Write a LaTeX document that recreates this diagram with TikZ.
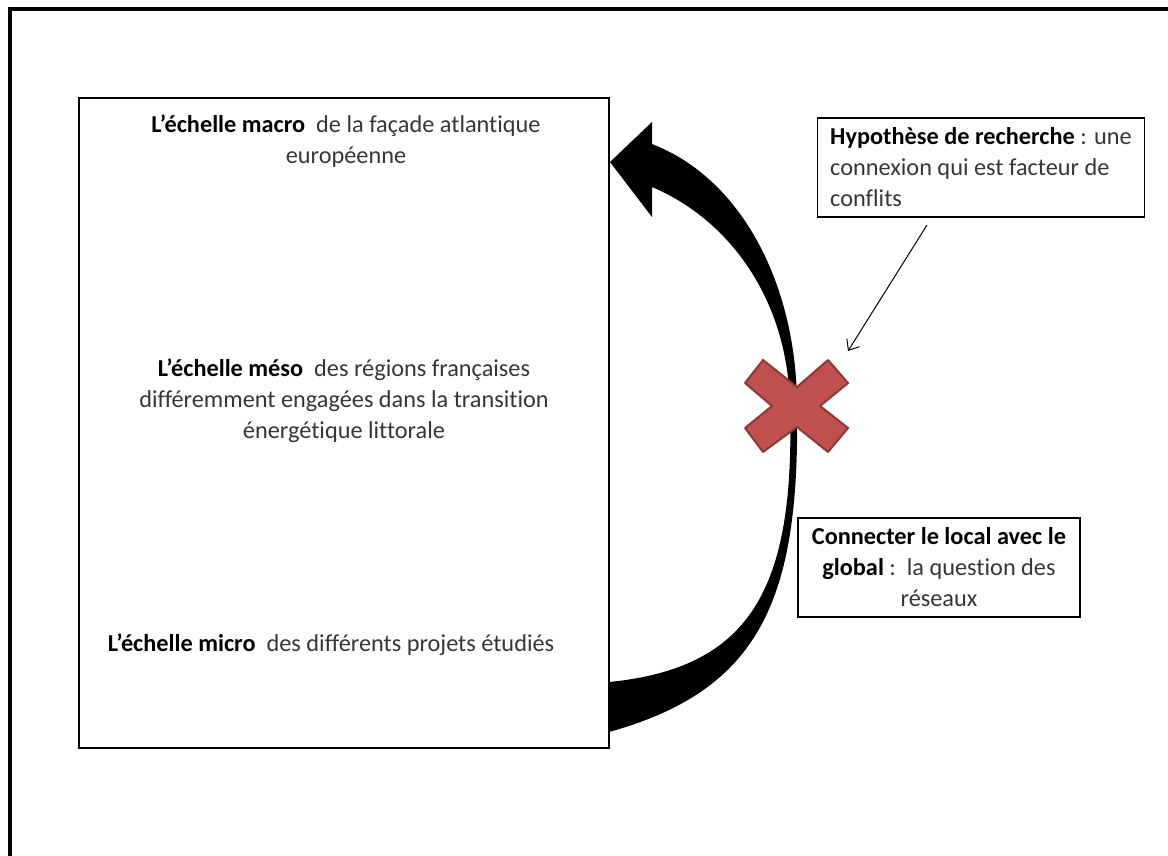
\documentclass[tikz,border=0pt]{standalone}
\usepackage{fontspec}
\setmainfont{Carlito}[Ligatures=NoCommon]
\usetikzlibrary{arrows.meta}
\definecolor{xred}{HTML}{C0504D}
\definecolor{xredb}{HTML}{8C3836}
\definecolor{txt}{HTML}{363636}
\begin{document}
\begin{tikzpicture}[x=1pt,y=-1pt,
  font=\fontsize{24.3}{31}\selectfont,
  box/.style={draw=black, fill=none, inner sep=0pt},
  label/.style={text=txt, inner sep=0pt},
  callout/.style={draw=black, line width=1.3pt, inner xsep=13pt, inner ysep=0pt, text=txt}]
\useasboundingbox (0,0) rectangle (1168,855);
\clip (0,0) rectangle (1168,855);
% outer frame (only top and left visible)
\draw[line width=3.5pt] (10,900) -- (10,9) -- (1200,9);

% thick curved arrow
\fill[black] (610,162) -- (652,122) -- (652,144)
  .. controls (745,180) and (797,290) .. (797,406)
  .. controls (800,600) and (760,690) .. (609,732)
  -- (609,682)
  .. controls (750,668) and (795,590) .. (790,406)
  .. controls (788,300) and (730,220) .. (652,187)
  -- (652,217) -- cycle;

% main box
\node[box, line width=2pt, minimum width=530pt, minimum height=650pt] (scales) at (344,423) {};
\node[label, align=center] (macro) at (346,141) {\textcolor{black}{\textbf{L’échelle macro}}\ \ de la façade atlantique\\européenne};
\node[label, align=center] (meso) at (344,401) {\textcolor{black}{\textbf{L’échelle méso}}\ \ des régions françaises\\différemment engagées dans la transition\\énergétique littorale};
\node[label, align=center] (micro) at (331,645) {\textcolor{black}{\textbf{L’échelle micro}}\ \ des différents projets étudiés};

% callout boxes
\node[callout, minimum width=326pt, minimum height=99pt, align=left] (hyp) at (981,167.5) {\textcolor{black}{\textbf{Hypothèse de recherche}} : une\\connexion qui est facteur de\\conflits};
\node[callout, minimum width=282pt, minimum height=99pt, align=center] (glob) at (939,567.5) {\textcolor{black}{\textbf{Connecter le local avec le}}\\\textcolor{black}{\textbf{global}} :\ \ la question des\\réseaux};

% thin arrow
\coordinate (hs) at (927,225);
\coordinate (he) at (848,351);
\draw[line width=1pt, -{Straight Barb[length=9pt,width=15pt]}] (hs) -- (he);

% red cross
\filldraw[fill=xred, draw=xredb, line width=2pt, line join=round]
  (745,383) -- (763,360) -- (797,387) -- (828,360) -- (848,383) -- (820,406)
  -- (848,428) -- (828,452) -- (797,427) -- (763,452) -- (745,428) -- (772,406) -- cycle;
\end{tikzpicture}
\end{document}
